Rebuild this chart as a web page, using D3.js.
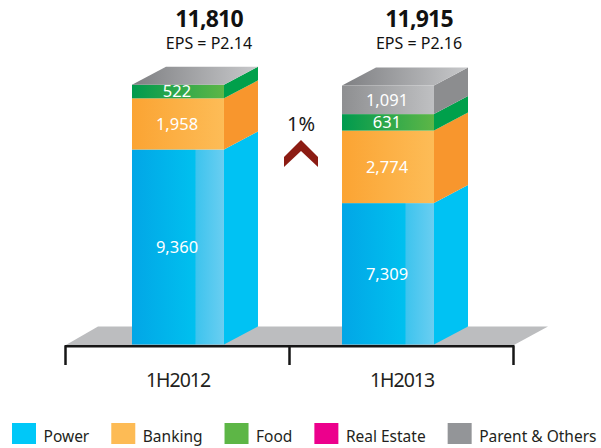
<!DOCTYPE html>
<html><head><meta charset="utf-8">
<script src="https://cdn.jsdelivr.net/npm/d3@7"></script>
<style>body{margin:0;background:#fff}svg{display:block}</style>
</head><body>
<svg id="chart" width="601" height="448"></svg>
<script>
// ---- data ----
const categories = ["1H2012", "1H2013"];
const power = [9360, 7309];
const banking = [1958, 2774];
const food = [522, 631];
const realEstate = [0, 0];
const parentOthers = [0, 1091];
const totals = [11810, 11915];
const eps = [2.14, 2.16];
const seriesNames = ["Power", "Banking", "Food", "Real Estate", "Parent & Others"];

// ---- styles ----
const FONT = "'Noto Sans', 'Open Sans', sans-serif";
const legendColors = ["#00C8F8", "#FDBB55", "#5DB646", "#EC008C", "#939598"];
const frontStops = [
  [[0, "#02A6E6"], [0.68, "#00C0EF"], [0.7, "#3EC4EE"], [1, "#6ACEF1"]],
  [[0, "#FBA433"], [1, "#FDBC57"]],
  [[0, "#009A4E"], [1, "#5DB647"]],
  [[0, "#D6006F"], [1, "#F0409F"]],
  [[0, "#8E8F91"], [1, "#BFC0C2"]]
];
const sideColors = ["#00C2F3", "#F8962D", "#00A04B", "#B5006A", "#8C8D8F"];
const DX = 34, DY = -18;

const svg = d3.select("#chart");
const defs = svg.append("defs");
function grad(id, stops) {
  const g = defs.append("linearGradient").attr("id", id)
    .attr("x1", "0%").attr("x2", "100%").attr("y1", "0%").attr("y2", "0%");
  stops.forEach(([o, c]) => g.append("stop").attr("offset", o).attr("stop-color", c));
}
frontStops.forEach((s, i) => grad("front" + i, s));
grad("topface", [[0, "#7E7F82"], [1, "#C8C9CB"]]);

// ---- data table & stack ----
const keys = ["power", "banking", "food", "realEstate", "parentOthers"];
const cols = { power, banking, food, realEstate, parentOthers };
const rows = categories.map((c, i) => {
  const r = { cat: c };
  keys.forEach(k => r[k] = cols[k][i]);
  return r;
});
const stacked = d3.stack().keys(keys)(rows);

// ---- scales ----
const xAxis = d3.scaleBand().domain(categories).range([65, 513]);
const xb = d3.scaleBand().domain(categories).range([65, 501])
  .paddingInner(0.562).paddingOuter(0.319);
const bw = xb.bandwidth();
const y = d3.scaleLinear().domain([1900, 12000]).range([344.5, 80.5]).clamp(true);
const baseY = y(0);

// ---- floor ----
const [ax0, ax1] = xAxis.range();
svg.append("polygon")
  .attr("points", [[ax0, baseY + 1], [ax0 + DX - 1, baseY + DY], [ax1 + DX + 1, baseY + DY], [ax1, baseY + 1]].join(" "))
  .attr("fill", "#BCBDBF");

// ---- bars ----
const gBars = svg.append("g");
stacked.forEach((s, si) => {
  s.forEach((d, i) => {
    if (d[1] - d[0] <= 0) return;
    const x0 = xb(categories[i]), x1 = x0 + bw;
    const yt = y(d[1]), yb = y(d[0]);
    gBars.append("polygon")
      .attr("points", [[x1, yt], [x1 + DX, yt + DY], [x1 + DX, yb + DY], [x1, yb]].join(" "))
      .attr("fill", sideColors[si]);
    gBars.append("rect").attr("x", x0).attr("y", yt).attr("width", bw).attr("height", yb - yt)
      .attr("fill", `url(#front${si})`);
    gBars.append("text")
      .attr("x", x0 + bw / 2 - 1).attr("y", (yt + yb) / 2).attr("dy", "0.36em")
      .attr("text-anchor", "middle").attr("fill", "#fff")
      .attr("font-family", FONT).attr("font-size", 16.5)
      .text(d3.format(",")(d[1] - d[0]));
  });
});
// top faces
categories.forEach((c, i) => {
  const top = y(stacked[stacked.length - 1][i][1]);
  const x0 = xb(c), x1 = x0 + bw;
  gBars.append("polygon")
    .attr("points", [[x0, top], [x0 + DX, top + DY], [x1 + DX, top + DY], [x1, top]].join(" "))
    .attr("fill", "url(#topface)");
  const cx = x0 + bw / 2 + 31;
  svg.append("text").attr("x", cx).attr("y", 27).attr("text-anchor", "middle")
    .attr("font-family", FONT).attr("font-weight", 700).attr("font-size", 23)
    .attr("letter-spacing", -0.8).attr("fill", "#111")
    .text(d3.format(",")(totals[i]));
  svg.append("text").attr("x", cx).attr("y", 48.5).attr("text-anchor", "middle")
    .attr("font-family", FONT).attr("font-size", 16).attr("fill", "#111")
    .text("EPS = P" + d3.format(".2f")(eps[i]));
});

// ---- growth indicator ----
const gx = (xb(categories[0]) + bw + DX + xb(categories[1])) / 2 + 1;
svg.append("text").attr("x", gx).attr("y", 130.6).attr("text-anchor", "middle")
  .attr("font-family", FONT).attr("font-size", 20).attr("fill", "#1a1a1a")
  .text(d3.format(".0%")(totals[1] / totals[0] - 1));
svg.append("polygon")
  .attr("points", [[-17, 17], [0, 0], [17, 17], [17, 27], [0, 11], [-17, 27]]
    .map(p => [gx + p[0], 140 + p[1]]).join(" "))
  .attr("fill", "#8C1C13");

// ---- axis ----
const axY = baseY + 1.8;
const gAxis = svg.append("g").attr("stroke", "#161616").attr("stroke-width", 2.5);
gAxis.append("line").attr("x1", ax0).attr("x2", ax1 + 1).attr("y1", axY).attr("y2", axY);
const tickXs = categories.map(c => xAxis(c)).concat([ax1]);
tickXs.forEach(t => gAxis.append("line").attr("x1", t + 0.5).attr("x2", t + 0.5)
  .attr("y1", axY - 1).attr("y2", 365));
categories.forEach(c => svg.append("text")
  .attr("x", xAxis(c) + xAxis.bandwidth() / 2 + 1).attr("y", 387)
  .attr("text-anchor", "middle").attr("font-family", FONT).attr("font-size", 19.5)
  .attr("letter-spacing", -1).attr("fill", "#231F20").text(c));

// ---- legend ----
const gLeg = svg.append("g");
let lx = 12;
seriesNames.forEach((n, i) => {
  gLeg.append("rect").attr("x", lx).attr("y", 423).attr("width", 24).attr("height", 21)
    .attr("fill", legendColors[i]);
  const t = gLeg.append("text").attr("x", lx + 31.5).attr("y", 442)
    .attr("font-family", FONT).attr("font-size", 15.5).attr("fill", "#231F20").text(n);
  lx = lx + 31.5 + t.node().getComputedTextLength() + 22;
});
</script>
</body></html>
